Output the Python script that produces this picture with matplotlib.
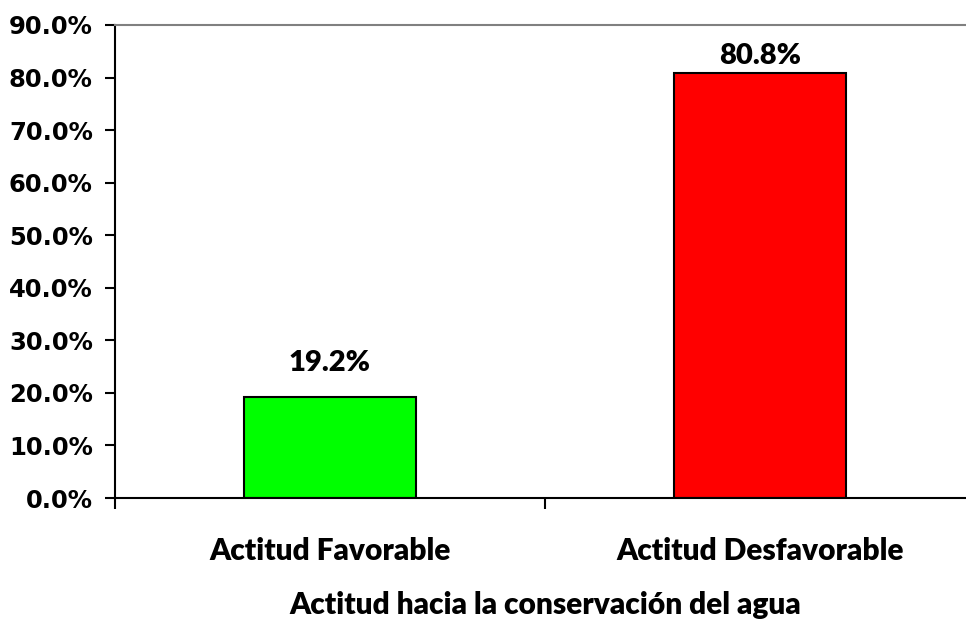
import matplotlib.pyplot as plt
from matplotlib.ticker import FixedLocator, PercentFormatter

categories = ["Actitud Favorable", "Actitud Desfavorable"]
values = [19.2, 80.8]
colors = ["#00FF00", "#FF0000"]
yticks = [0, 10, 20, 30, 40, 50, 60, 70, 80, 90]

W, H = 966, 623
fig = plt.figure(figsize=(W / 100, H / 100), dpi=100)
ax = fig.add_axes([115 / W, (H - 498) / H, 860 / W, 473 / H])

x = range(len(categories))
bars = ax.bar(x, values, width=0.4, color=colors, edgecolor="black", linewidth=1.5)

# label gap above each bar (points), as placed in the original
label_gaps = [15, 3]
for b, v, gap in zip(bars, values, label_gaps):
    ax.annotate("{:.1f}%".format(v), (b.get_x() + b.get_width() / 2, v),
                xytext=(0, gap), textcoords="offset points", ha="center", va="bottom",
                fontsize=21, fontweight="heavy", family="Lato")

ax.set_xlim(-0.5, 1.5)
ax.set_ylim(0, 90)
ax.set_yticks(yticks)
ax.yaxis.set_major_formatter(PercentFormatter(decimals=1))
ax.tick_params(axis="y", direction="out", length=7, width=1.5, labelsize=17.5, pad=9)
for lab in ax.get_yticklabels():
    lab.set_fontweight("bold")
    lab.set_family("DejaVu Sans")

ax.set_xticks(list(x))
ax.set_xticklabels(categories, fontsize=21.5, fontweight="heavy", family="Lato")
ax.tick_params(axis="x", which="major", length=0, pad=28)
ax.xaxis.set_minor_locator(FixedLocator([-0.5, 0.5, 1.5]))
ax.tick_params(axis="x", which="minor", direction="out", length=8, width=1.5)

ax.set_xlabel("Actitud hacia la conservación del agua", fontsize=21.5,
              fontweight="heavy", family="Lato", labelpad=19)

ax.spines["right"].set_visible(False)
ax.spines["top"].set_color("#808080")
ax.spines["top"].set_linewidth(1.5)
ax.spines["left"].set_linewidth(1.5)
ax.spines["bottom"].set_linewidth(1.5)

fig.savefig("out.png", dpi=100)
